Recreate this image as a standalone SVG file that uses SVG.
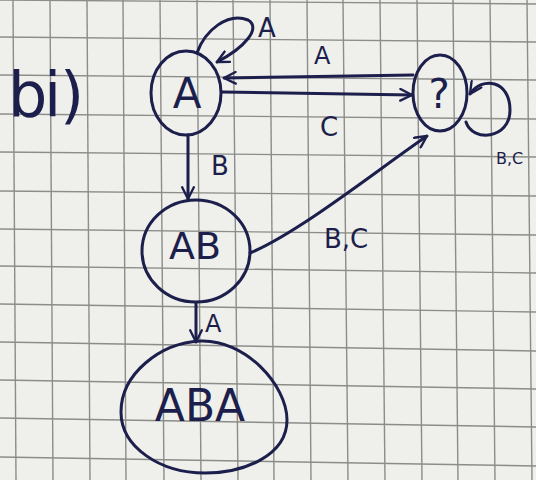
<svg xmlns="http://www.w3.org/2000/svg" width="536" height="480" viewBox="0 0 536 480">
  <defs>
    <style>
      .grid line { stroke: #8c8c8a; stroke-width: 1.4; }
      .ink { fill: none; stroke: #1c1e4c; stroke-width: 3; stroke-linecap: round; stroke-linejoin: round; }
      .lbl { fill: #1c1e4c; font-family: "DejaVu Sans", "Liberation Sans", sans-serif; }
    </style>
    <marker id="arr" viewBox="0 0 12 12" refX="11" refY="6" markerWidth="14" markerHeight="14" markerUnits="userSpaceOnUse" orient="auto">
      <path d="M1,1 L11,6 L1,11" fill="none" stroke="#1c1e4c" stroke-width="2" stroke-linecap="round" stroke-linejoin="round"/>
    </marker>
  </defs>

  <!-- squared paper -->
  <rect width="536" height="480" fill="#efefeb"/>
  <g class="grid">
    <line x1="13" y1="0" x2="16" y2="480"/>
    <line x1="50" y1="0" x2="53" y2="480"/>
    <line x1="87" y1="0" x2="90" y2="480"/>
    <line x1="123" y1="0" x2="126" y2="480"/>
    <line x1="160" y1="0" x2="164" y2="480"/>
    <line x1="197" y1="0" x2="201" y2="480"/>
    <line x1="233" y1="0" x2="238" y2="480"/>
    <line x1="270" y1="0" x2="274" y2="480"/>
    <line x1="307" y1="0" x2="311" y2="480"/>
    <line x1="343" y1="0" x2="348" y2="480"/>
    <line x1="380" y1="0" x2="385" y2="480"/>
    <line x1="417" y1="0" x2="422" y2="480"/>
    <line x1="453" y1="0" x2="458" y2="480"/>
    <line x1="490" y1="0" x2="495" y2="480"/>
    <line x1="527" y1="0" x2="532" y2="480"/>
    <line x1="0" y1="0" x2="536" y2="4"/>
    <line x1="0" y1="37" x2="536" y2="42"/>
    <line x1="0" y1="75" x2="536" y2="80"/>
    <line x1="0" y1="114" x2="536" y2="119"/>
    <line x1="0" y1="152" x2="536" y2="157"/>
    <line x1="0" y1="191" x2="536" y2="196"/>
    <line x1="0" y1="229" x2="536" y2="235"/>
    <line x1="0" y1="266" x2="536" y2="273"/>
    <line x1="0" y1="304" x2="536" y2="312"/>
    <line x1="0" y1="342" x2="536" y2="351"/>
    <line x1="0" y1="380" x2="536" y2="389"/>
    <line x1="0" y1="418" x2="536" y2="427"/>
    <line x1="0" y1="457" x2="536" y2="466"/>
  </g>

  <text class="lbl" x="8 44 60" y="116" font-size="62">bi)</text>

  <!-- connectors -->
  <g id="edges">
    <path class="ink" d="M197,53 C205,30 228,12 248,20 C262,28 244,48 217,62" marker-end="url(#arr)"/>
    <path class="ink" d="M413,75 L224,78" marker-end="url(#arr)"/>
    <path class="ink" d="M222,92 L412,95" marker-end="url(#arr)"/>
    <path class="ink" d="M466,122 C472,142 510,140 510,110 C510,80 482,76 470,94" marker-end="url(#arr)"/>
    <path class="ink" d="M188,135 L188,199" marker-end="url(#arr)"/>
    <path class="ink" d="M250,253 C300,232 380,168 427,136" marker-end="url(#arr)"/>
    <path class="ink" d="M196,303 L196,342" marker-end="url(#arr)"/>
    <text class="lbl" x="258" y="37" font-size="26">A</text>
    <text class="lbl" x="314" y="64" font-size="24">A</text>
    <text class="lbl" x="320" y="136" font-size="26">C</text>
    <text class="lbl" x="211" y="175" font-size="26">B</text>
    <text class="lbl" x="324" y="248" font-size="26">B,C</text>
    <text class="lbl" x="205" y="332" font-size="24">A</text>
    <text class="lbl" x="496" y="164" font-size="16">B,C</text>
  </g>

  <g id="node-A">
    <ellipse class="ink" cx="186" cy="93" rx="35" ry="42"/>
    <text class="lbl" x="187" y="108" font-size="42" text-anchor="middle">A</text>
  </g>
  <g id="node-dead">
    <ellipse class="ink" cx="440" cy="93" rx="27" ry="38"/>
    <text class="lbl" x="439" y="108" font-size="40" text-anchor="middle">?</text>
  </g>
  <g id="node-AB">
    <ellipse class="ink" cx="196" cy="251" rx="54" ry="51"/>
    <text class="lbl" x="195" y="259" font-size="38" text-anchor="middle">AB</text>
  </g>
  <g id="node-ABA">
    <path class="ink" d="M200,341 C245,339 287,385 287,420 C287,455 245,473 205,473 C160,473 121,447 121,412 C121,374 160,343 200,341 Z"/>
    <text class="lbl" x="200" y="421" font-size="44" text-anchor="middle">ABA</text>
  </g>
</svg>
